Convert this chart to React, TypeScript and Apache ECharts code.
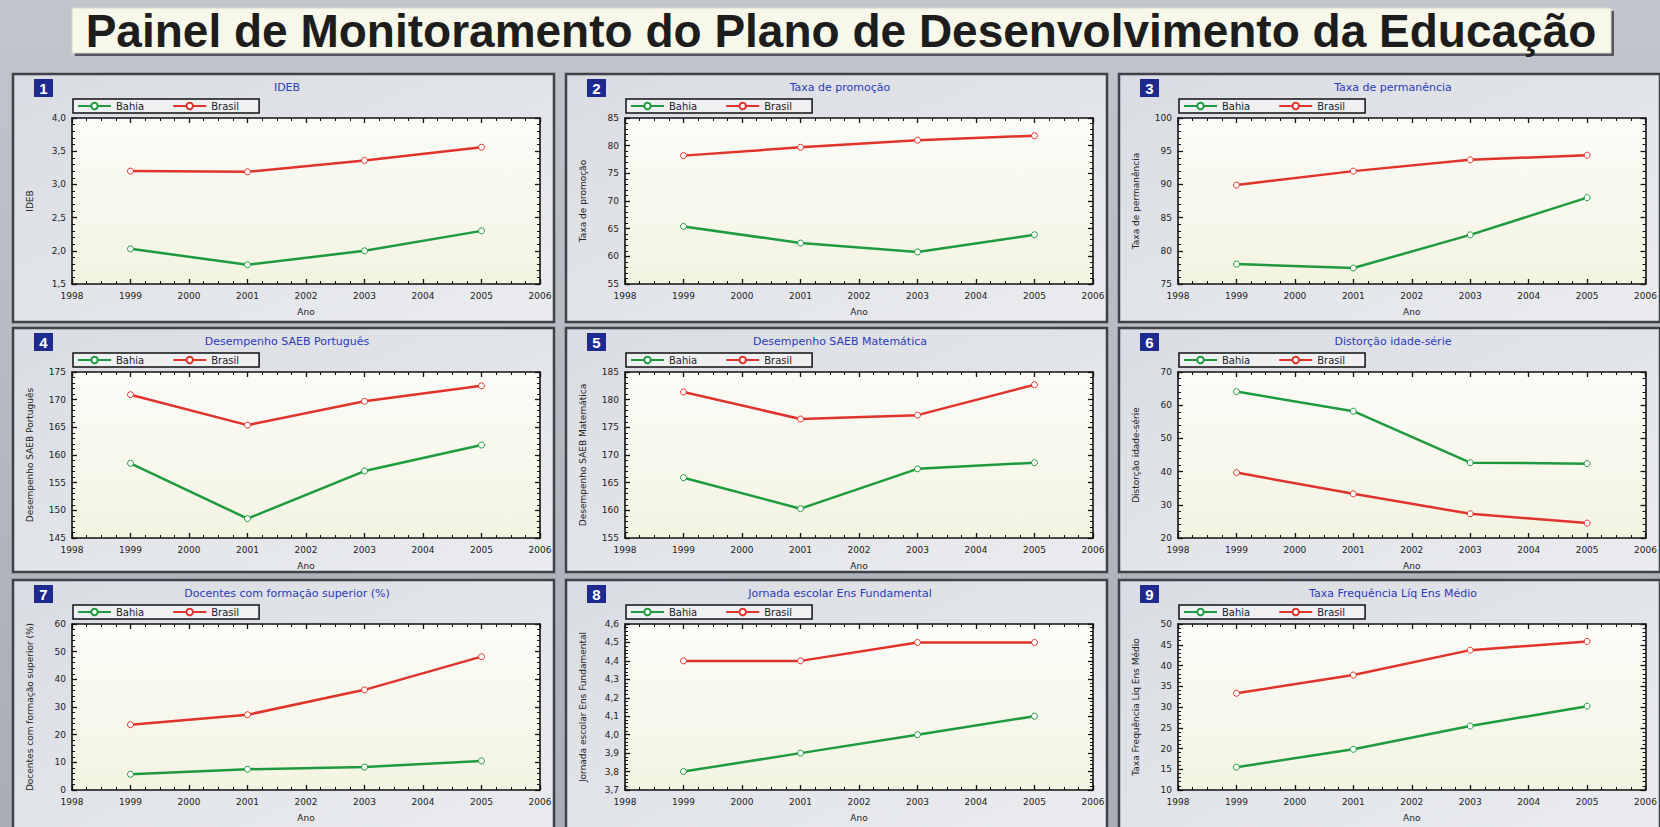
import React, { useEffect, useRef } from "react";
import * as echarts from "echarts";

// ---------- DATA ----------
const years = [1999, 2001, 2003, 2005];
const seriesNames = ["Bahia", "Brasil"];

const idebBahia = [2.03, 1.79, 2.0, 2.3];
const idebBrasil = [3.2, 3.19, 3.36, 3.56];
const promocaoBahia = [65.4, 62.4, 60.8, 63.9];
const promocaoBrasil = [78.2, 79.7, 81.0, 81.8];
const permanenciaBahia = [78.0, 77.4, 82.4, 88.0];
const permanenciaBrasil = [89.9, 92.0, 93.7, 94.4];
const portuguesBahia = [158.5, 148.5, 157.1, 161.8];
const portuguesBrasil = [170.9, 165.4, 169.7, 172.5];
const matematicaBahia = [165.9, 160.3, 167.5, 168.6];
const matematicaBrasil = [181.4, 176.5, 177.2, 182.7];
const distorcaoBahia = [64.1, 58.2, 42.7, 42.4];
const distorcaoBrasil = [39.7, 33.3, 27.3, 24.5];
const docentesBahia = [5.7, 7.5, 8.3, 10.5];
const docentesBrasil = [23.6, 27.2, 36.2, 48.2];
const jornadaBahia = [3.8, 3.9, 4.0, 4.1];
const jornadaBrasil = [4.4, 4.4, 4.5, 4.5];
const frequenciaBahia = [15.5, 19.8, 25.4, 30.2];
const frequenciaBrasil = [33.3, 37.7, 43.7, 45.8];

const mainTitle = "Painel de Monitoramento do Plano de Desenvolvimento da Educação";
const panelTitles = [
  "IDEB",
  "Taxa de promoção",
  "Taxa de permanência",
  "Desempenho SAEB Português",
  "Desempenho SAEB Matemática",
  "Distorção idade-série",
  "Docentes com formação superior (%)",
  "Jornada escolar Ens Fundamental",
  "Taxa Frequência Líq Ens Médio",
];
const yAxisNames = [
  "IDEB",
  "Taxa de promoção",
  "Taxa de permanência",
  "Desempenho SAEB Português",
  "Desempenho SAEB Matemática",
  "Distorção idade-série",
  "Docentes com formação superior (%)",
  "Jornada escolar Ens Fundamental",
  "Taxa Frequência Líq Ens Médio",
];
const xAxisName = "Ano";
const xMin = 1998;
const xMax = 2006;
// y axis scales: [min, max, interval, decimals]
const yScales: [number, number, number, number][] = [
  [1.5, 4.0, 0.5, 1],
  [55, 85, 5, 0],
  [75, 100, 5, 0],
  [145, 175, 5, 0],
  [155, 185, 5, 0],
  [20, 70, 10, 0],
  [0, 60, 10, 0],
  [3.7, 4.6, 0.1, 1],
  [10, 50, 5, 0],
];
const bahiaData = [idebBahia, promocaoBahia, permanenciaBahia, portuguesBahia, matematicaBahia, distorcaoBahia, docentesBahia, jornadaBahia, frequenciaBahia];
const brasilData = [idebBrasil, promocaoBrasil, permanenciaBrasil, portuguesBrasil, matematicaBrasil, distorcaoBrasil, docentesBrasil, jornadaBrasil, frequenciaBrasil];

// ---------- LAYOUT ----------
const W = 1660;
const H = 827;
const colX = [13, 566, 1119];
const rowY = [74, 328, 580];
const panelW = 541;
const panelH = [248, 244, 252];
const GREEN = "#1f9a3e";
const RED = "#e0332b";
const FONT = "DejaVu Sans";

function buildOption() {
  const grids: any[] = [];
  const xAxes: any[] = [];
  const yAxes: any[] = [];
  const series: any[] = [];
  const legends: any[] = [];
  const graphics: any[] = [];

  graphics.push({
    type: "rect",
    z: 0,
    shape: { x: 0, y: 0, width: W, height: H },
    style: {
      fill: new echarts.graphic.LinearGradient(0, 0, 0, 1, [
        { offset: 0, color: "#c2c5cb" },
        { offset: 1, color: "#a9adb5" },
      ]),
    },
  });
  // title box
  graphics.push({ type: "rect", z: 1, shape: { x: 75, y: 11, width: 1539, height: 45 }, style: { fill: "#55585e" } });
  graphics.push({ type: "rect", z: 2, shape: { x: 72, y: 8, width: 1539, height: 45 }, style: { fill: "#f7f7ea", stroke: "#d8d8cc", lineWidth: 1 } });
  graphics.push({
    type: "text",
    z: 3,
    x: 841,
    y: 31,
    style: {
      text: mainTitle,
      fontFamily: "Liberation Sans",
      fontWeight: "bold",
      fontSize: 46,
      fill: "#1d1d1d",
      align: "center",
      verticalAlign: "middle",
    },
  });

  for (let i = 0; i < 9; i++) {
    const c = i % 3;
    const r = Math.floor(i / 3);
    const px = colX[c];
    const py = rowY[r];
    const ph = panelH[r];
    // panel
    graphics.push({
      type: "rect",
      z: 1,
      shape: { x: px, y: py, width: panelW, height: ph },
      style: {
        fill: new echarts.graphic.LinearGradient(0, 0, 1, 1, [
          { offset: 0, color: "#d9dce2" },
          { offset: 1, color: "#eaecef" },
        ]),
        stroke: "#3f4247",
        lineWidth: 2.5,
      },
    });
    // badge
    graphics.push({ type: "rect", z: 3, shape: { x: px + 21, y: py + 5, width: 19, height: 18 }, style: { fill: "#1f2a8e" } });
    graphics.push({
      type: "text",
      z: 4,
      x: px + 30.5,
      y: py + 14.5,
      style: { text: String(i + 1), fontFamily: "Liberation Sans", fontWeight: "bold", fontSize: 15, fill: "#ffffff", align: "center", verticalAlign: "middle" },
    });
    // panel title
    graphics.push({
      type: "text",
      z: 4,
      x: px + 274,
      y: py + 13,
      style: { text: panelTitles[i], fontFamily: FONT, fontSize: 11, fill: "#2b3bb8", align: "center", verticalAlign: "middle" },
    });

    const gl = px + 59;
    const gt = py + 44;
    const gw = 468;
    const gh = 166;
    grids.push({
      left: gl,
      top: gt,
      width: gw,
      height: gh,
      show: true,
      z: 2,
      borderWidth: 0,
      backgroundColor: new echarts.graphic.LinearGradient(0, 0, 0, 1, [
        { offset: 0, color: "#fbfbf8" },
        { offset: 1, color: "#f4f4e2" },
      ]),
    });
    const [ymin, ymax, yint, dec] = yScales[i];
    const axisLine = { show: true, onZero: false, lineStyle: { color: "#111", width: 1.6 } };
    const tick = { show: true, inside: true, length: 5, lineStyle: { color: "#111", width: 1.3 } };
    const xMinor = { show: true, splitNumber: 4, length: 3, lineStyle: { color: "#111", width: 1 } };
    const yMinor = { show: true, splitNumber: 5, length: 3, lineStyle: { color: "#111", width: 1 } };
    // bottom x
    xAxes.push({
      type: "value",
      gridIndex: i,
      position: "bottom",
      z: 4,
      min: xMin,
      max: xMax,
      interval: 1,
      axisLine,
      axisTick: tick,
      minorTick: xMinor,
      splitLine: { show: false },
      axisLabel: { margin: 7, fontSize: 9, fontFamily: FONT, color: "#222", formatter: (v: number) => String(v) },
      name: xAxisName,
      nameLocation: "middle",
      nameGap: 23,
      nameTextStyle: { fontSize: 9, fontFamily: FONT, color: "#222" },
    });
    // top mirror x
    xAxes.push({
      type: "value",
      gridIndex: i,
      position: "top",
      z: 4,
      min: xMin,
      max: xMax,
      interval: 1,
      axisLine,
      axisTick: tick,
      minorTick: xMinor,
      splitLine: { show: false },
      axisLabel: { show: false },
    });
    const fmt = (v: number) => v.toFixed(dec).replace(".", ",");
    yAxes.push({
      type: "value",
      gridIndex: i,
      position: "left",
      z: 4,
      min: ymin,
      max: ymax,
      interval: yint,
      axisLine,
      axisTick: tick,
      minorTick: yMinor,
      splitLine: { show: false },
      axisLabel: { margin: 6, fontSize: 9, fontFamily: FONT, color: "#222", formatter: fmt },
      name: yAxisNames[i],
      nameLocation: "middle",
      nameGap: 38,
      nameRotate: 90,
      nameTextStyle: { fontSize: 9, fontFamily: FONT, color: "#222" },
    });
    yAxes.push({
      type: "value",
      gridIndex: i,
      position: "right",
      z: 4,
      min: ymin,
      max: ymax,
      interval: yint,
      axisLine,
      axisTick: tick,
      minorTick: yMinor,
      splitLine: { show: false },
      axisLabel: { show: false },
    });
    const mk = (name: string, vals: number[], color: string) => ({
      type: "line",
      name,
      xAxisIndex: i * 2,
      yAxisIndex: i * 2,
      z: 5,
      data: years.map((y, k) => [y, vals[k]]),
      symbol: "circle",
      symbolSize: 6,
      showSymbol: true,
      lineStyle: { color, width: 2.5 },
      itemStyle: { color: "#ffffff", borderColor: color, borderWidth: 1 },
      emphasis: { disabled: true },
    });
    series.push(mk(seriesNames[0], bahiaData[i], GREEN));
    series.push(mk(seriesNames[1], brasilData[i], RED));

    legends.push({
      left: px + 60,
      top: py + 25,
      orient: "horizontal",
      data: seriesNames,
      itemWidth: 33,
      itemHeight: 8,
      itemGap: 28,
      padding: [2, 20, 2, 4],
      borderColor: "#111",
      borderWidth: 1.5,
      backgroundColor: "#eef0f2",
      textStyle: { fontSize: 10, fontFamily: FONT, color: "#222" },
      selectedMode: false,
      z: 6,
    });
  }

  return {
    animation: false,
    graphic: { elements: graphics },
    grid: grids,
    xAxis: xAxes,
    yAxis: yAxes,
    legend: legends,
    series,
  };
}

export default function App() {
  const ref = useRef<HTMLDivElement>(null);
  useEffect(() => {
    if (!ref.current) return;
    const chart = echarts.init(ref.current, undefined, { renderer: "svg" });
    chart.setOption(buildOption() as any);
    return () => chart.dispose();
  }, []);
  return <div ref={ref} style={{ position: "absolute", left: 0, top: 0, width: W, height: H }} />;
}
